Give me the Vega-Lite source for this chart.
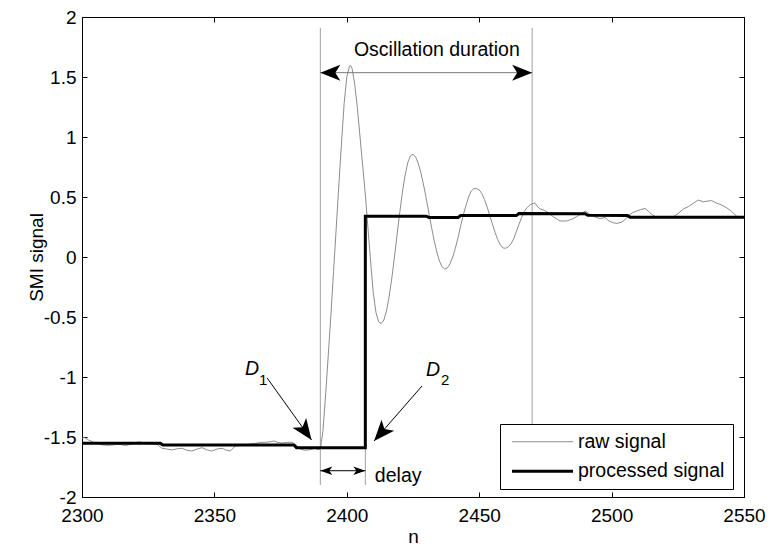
{
  "$schema": "https://vega.github.io/schema/vega-lite/v6.json",
  "width": 662,
  "height": 480,
  "autosize": {"type": "none"},
  "padding": {"left": 82, "top": 17, "right": 27, "bottom": 52},
  "background": "white",
  "config": {
    "view": {"stroke": "black", "strokeWidth": 1},
    "font": "Liberation Sans, Arial, sans-serif",
    "axis": {
      "domainColor": "black",
      "tickColor": "black",
      "tickSize": -5,
      "labelColor": "black",
      "labelFontSize": 19,
      "titleFontSize": 19,
      "titleFontWeight": "normal",
      "titleColor": "black",
      "grid": false,
      "labelFlush": false,
      "labelOverlap": false
    }
  },
  "datasets": {
    "sig": [
      {"n": 2300, "v": -1.51, "s": "raw signal"},
      {"n": 2301, "v": -1.505, "s": "raw signal"},
      {"n": 2302.5, "v": -1.525, "s": "raw signal"},
      {"n": 2305, "v": -1.55, "s": "raw signal"},
      {"n": 2307.5, "v": -1.565, "s": "raw signal"},
      {"n": 2310, "v": -1.57, "s": "raw signal"},
      {"n": 2312, "v": -1.565, "s": "raw signal"},
      {"n": 2314, "v": -1.56, "s": "raw signal"},
      {"n": 2316.4, "v": -1.572, "s": "raw signal"},
      {"n": 2318.5, "v": -1.56, "s": "raw signal"},
      {"n": 2321.4, "v": -1.54, "s": "raw signal"},
      {"n": 2323.9, "v": -1.552, "s": "raw signal"},
      {"n": 2326, "v": -1.558, "s": "raw signal"},
      {"n": 2328.3, "v": -1.56, "s": "raw signal"},
      {"n": 2330.2, "v": -1.594, "s": "raw signal"},
      {"n": 2332, "v": -1.6, "s": "raw signal"},
      {"n": 2334, "v": -1.608, "s": "raw signal"},
      {"n": 2336, "v": -1.598, "s": "raw signal"},
      {"n": 2337.8, "v": -1.594, "s": "raw signal"},
      {"n": 2339.5, "v": -1.61, "s": "raw signal"},
      {"n": 2341.5, "v": -1.617, "s": "raw signal"},
      {"n": 2343.5, "v": -1.6, "s": "raw signal"},
      {"n": 2345.3, "v": -1.589, "s": "raw signal"},
      {"n": 2347, "v": -1.605, "s": "raw signal"},
      {"n": 2349, "v": -1.617, "s": "raw signal"},
      {"n": 2351, "v": -1.6, "s": "raw signal"},
      {"n": 2352.9, "v": -1.594, "s": "raw signal"},
      {"n": 2354.5, "v": -1.61, "s": "raw signal"},
      {"n": 2356, "v": -1.617, "s": "raw signal"},
      {"n": 2357.9, "v": -1.575, "s": "raw signal"},
      {"n": 2360, "v": -1.57, "s": "raw signal"},
      {"n": 2361.7, "v": -1.57, "s": "raw signal"},
      {"n": 2363.5, "v": -1.56, "s": "raw signal"},
      {"n": 2365.5, "v": -1.553, "s": "raw signal"},
      {"n": 2367.5, "v": -1.545, "s": "raw signal"},
      {"n": 2369.2, "v": -1.544, "s": "raw signal"},
      {"n": 2371, "v": -1.54, "s": "raw signal"},
      {"n": 2372.4, "v": -1.533, "s": "raw signal"},
      {"n": 2374, "v": -1.545, "s": "raw signal"},
      {"n": 2375.5, "v": -1.55, "s": "raw signal"},
      {"n": 2377.5, "v": -1.545, "s": "raw signal"},
      {"n": 2379.3, "v": -1.544, "s": "raw signal"},
      {"n": 2381, "v": -1.57, "s": "raw signal"},
      {"n": 2382.4, "v": -1.6, "s": "raw signal"},
      {"n": 2384, "v": -1.61, "s": "raw signal"},
      {"n": 2385.6, "v": -1.608, "s": "raw signal"},
      {"n": 2387, "v": -1.6, "s": "raw signal"},
      {"n": 2388.1, "v": -1.594, "s": "raw signal"},
      {"n": 2389, "v": -1.605, "s": "raw signal"},
      {"n": 2390, "v": -1.6, "s": "raw signal"},
      {"n": 2391, "v": -1.45, "s": "raw signal"},
      {"n": 2392, "v": -1.15, "s": "raw signal"},
      {"n": 2393, "v": -0.82, "s": "raw signal"},
      {"n": 2394, "v": -0.48, "s": "raw signal"},
      {"n": 2395, "v": -0.12, "s": "raw signal"},
      {"n": 2396, "v": 0.24, "s": "raw signal"},
      {"n": 2397, "v": 0.6, "s": "raw signal"},
      {"n": 2398, "v": 0.95, "s": "raw signal"},
      {"n": 2399, "v": 1.28, "s": "raw signal"},
      {"n": 2400, "v": 1.5, "s": "raw signal"},
      {"n": 2401, "v": 1.59, "s": "raw signal"},
      {"n": 2401.5, "v": 1.595, "s": "raw signal"},
      {"n": 2402, "v": 1.57, "s": "raw signal"},
      {"n": 2403, "v": 1.44, "s": "raw signal"},
      {"n": 2404, "v": 1.24, "s": "raw signal"},
      {"n": 2405, "v": 1.0, "s": "raw signal"},
      {"n": 2406, "v": 0.76, "s": "raw signal"},
      {"n": 2407, "v": 0.52, "s": "raw signal"},
      {"n": 2408, "v": 0.24, "s": "raw signal"},
      {"n": 2409, "v": -0.04, "s": "raw signal"},
      {"n": 2410, "v": -0.3, "s": "raw signal"},
      {"n": 2411, "v": -0.46, "s": "raw signal"},
      {"n": 2412, "v": -0.54, "s": "raw signal"},
      {"n": 2413, "v": -0.555, "s": "raw signal"},
      {"n": 2414, "v": -0.525, "s": "raw signal"},
      {"n": 2415, "v": -0.448, "s": "raw signal"},
      {"n": 2416, "v": -0.328, "s": "raw signal"},
      {"n": 2417, "v": -0.176, "s": "raw signal"},
      {"n": 2418, "v": 0.0, "s": "raw signal"},
      {"n": 2419, "v": 0.19, "s": "raw signal"},
      {"n": 2420, "v": 0.37, "s": "raw signal"},
      {"n": 2421, "v": 0.54, "s": "raw signal"},
      {"n": 2422, "v": 0.68, "s": "raw signal"},
      {"n": 2423, "v": 0.785, "s": "raw signal"},
      {"n": 2424, "v": 0.842, "s": "raw signal"},
      {"n": 2425, "v": 0.857, "s": "raw signal"},
      {"n": 2426, "v": 0.832, "s": "raw signal"},
      {"n": 2427, "v": 0.779, "s": "raw signal"},
      {"n": 2428, "v": 0.7, "s": "raw signal"},
      {"n": 2429, "v": 0.6, "s": "raw signal"},
      {"n": 2430, "v": 0.488, "s": "raw signal"},
      {"n": 2431, "v": 0.367, "s": "raw signal"},
      {"n": 2432, "v": 0.247, "s": "raw signal"},
      {"n": 2433, "v": 0.136, "s": "raw signal"},
      {"n": 2434, "v": 0.04, "s": "raw signal"},
      {"n": 2435, "v": -0.034, "s": "raw signal"},
      {"n": 2436, "v": -0.082, "s": "raw signal"},
      {"n": 2437, "v": -0.1, "s": "raw signal"},
      {"n": 2438, "v": -0.09, "s": "raw signal"},
      {"n": 2439, "v": -0.056, "s": "raw signal"},
      {"n": 2440, "v": 0.0, "s": "raw signal"},
      {"n": 2441, "v": 0.073, "s": "raw signal"},
      {"n": 2442, "v": 0.16, "s": "raw signal"},
      {"n": 2443, "v": 0.26, "s": "raw signal"},
      {"n": 2444, "v": 0.35, "s": "raw signal"},
      {"n": 2445, "v": 0.43, "s": "raw signal"},
      {"n": 2446, "v": 0.5, "s": "raw signal"},
      {"n": 2447, "v": 0.55, "s": "raw signal"},
      {"n": 2448, "v": 0.57, "s": "raw signal"},
      {"n": 2449, "v": 0.57, "s": "raw signal"},
      {"n": 2450, "v": 0.56, "s": "raw signal"},
      {"n": 2451, "v": 0.528, "s": "raw signal"},
      {"n": 2452, "v": 0.479, "s": "raw signal"},
      {"n": 2453, "v": 0.417, "s": "raw signal"},
      {"n": 2454, "v": 0.346, "s": "raw signal"},
      {"n": 2455, "v": 0.273, "s": "raw signal"},
      {"n": 2456, "v": 0.204, "s": "raw signal"},
      {"n": 2457, "v": 0.145, "s": "raw signal"},
      {"n": 2458, "v": 0.101, "s": "raw signal"},
      {"n": 2459, "v": 0.075, "s": "raw signal"},
      {"n": 2460, "v": 0.073, "s": "raw signal"},
      {"n": 2461, "v": 0.085, "s": "raw signal"},
      {"n": 2462, "v": 0.11, "s": "raw signal"},
      {"n": 2463, "v": 0.15, "s": "raw signal"},
      {"n": 2464, "v": 0.21, "s": "raw signal"},
      {"n": 2465, "v": 0.27, "s": "raw signal"},
      {"n": 2466, "v": 0.33, "s": "raw signal"},
      {"n": 2467, "v": 0.38, "s": "raw signal"},
      {"n": 2468, "v": 0.41, "s": "raw signal"},
      {"n": 2469, "v": 0.43, "s": "raw signal"},
      {"n": 2470, "v": 0.445, "s": "raw signal"},
      {"n": 2471, "v": 0.45, "s": "raw signal"},
      {"n": 2472, "v": 0.42, "s": "raw signal"},
      {"n": 2473, "v": 0.4, "s": "raw signal"},
      {"n": 2474.5, "v": 0.39, "s": "raw signal"},
      {"n": 2476, "v": 0.37, "s": "raw signal"},
      {"n": 2478, "v": 0.335, "s": "raw signal"},
      {"n": 2480.5, "v": 0.3, "s": "raw signal"},
      {"n": 2483, "v": 0.3, "s": "raw signal"},
      {"n": 2485, "v": 0.315, "s": "raw signal"},
      {"n": 2486.8, "v": 0.336, "s": "raw signal"},
      {"n": 2488.5, "v": 0.36, "s": "raw signal"},
      {"n": 2490, "v": 0.383, "s": "raw signal"},
      {"n": 2491.8, "v": 0.356, "s": "raw signal"},
      {"n": 2493.5, "v": 0.335, "s": "raw signal"},
      {"n": 2495.6, "v": 0.32, "s": "raw signal"},
      {"n": 2497.5, "v": 0.33, "s": "raw signal"},
      {"n": 2499, "v": 0.3, "s": "raw signal"},
      {"n": 2500.6, "v": 0.286, "s": "raw signal"},
      {"n": 2502, "v": 0.28, "s": "raw signal"},
      {"n": 2503.8, "v": 0.29, "s": "raw signal"},
      {"n": 2505, "v": 0.31, "s": "raw signal"},
      {"n": 2506.3, "v": 0.344, "s": "raw signal"},
      {"n": 2508, "v": 0.37, "s": "raw signal"},
      {"n": 2509.5, "v": 0.383, "s": "raw signal"},
      {"n": 2511, "v": 0.395, "s": "raw signal"},
      {"n": 2512.6, "v": 0.405, "s": "raw signal"},
      {"n": 2514, "v": 0.38, "s": "raw signal"},
      {"n": 2515.1, "v": 0.356, "s": "raw signal"},
      {"n": 2517, "v": 0.33, "s": "raw signal"},
      {"n": 2519, "v": 0.335, "s": "raw signal"},
      {"n": 2521, "v": 0.33, "s": "raw signal"},
      {"n": 2523.3, "v": 0.336, "s": "raw signal"},
      {"n": 2525, "v": 0.36, "s": "raw signal"},
      {"n": 2527.1, "v": 0.4, "s": "raw signal"},
      {"n": 2529, "v": 0.42, "s": "raw signal"},
      {"n": 2531, "v": 0.45, "s": "raw signal"},
      {"n": 2532.7, "v": 0.475, "s": "raw signal"},
      {"n": 2534.6, "v": 0.46, "s": "raw signal"},
      {"n": 2536, "v": 0.465, "s": "raw signal"},
      {"n": 2537.8, "v": 0.47, "s": "raw signal"},
      {"n": 2539.5, "v": 0.45, "s": "raw signal"},
      {"n": 2541.6, "v": 0.433, "s": "raw signal"},
      {"n": 2543.5, "v": 0.41, "s": "raw signal"},
      {"n": 2545.3, "v": 0.38, "s": "raw signal"},
      {"n": 2547.2, "v": 0.34, "s": "raw signal"},
      {"n": 2548.5, "v": 0.335, "s": "raw signal"},
      {"n": 2550, "v": 0.335, "s": "raw signal"},
      {"n": 2300, "v": -1.553, "s": "processed signal"},
      {"n": 2329.6, "v": -1.553, "s": "processed signal"},
      {"n": 2330.6, "v": -1.567, "s": "processed signal"},
      {"n": 2380, "v": -1.567, "s": "processed signal"},
      {"n": 2381, "v": -1.589, "s": "processed signal"},
      {"n": 2407, "v": -1.589, "s": "processed signal"},
      {"n": 2407, "v": 0.34, "s": "processed signal"},
      {"n": 2430, "v": 0.34, "s": "processed signal"},
      {"n": 2431, "v": 0.33, "s": "processed signal"},
      {"n": 2442, "v": 0.33, "s": "processed signal"},
      {"n": 2443, "v": 0.345, "s": "processed signal"},
      {"n": 2464, "v": 0.345, "s": "processed signal"},
      {"n": 2465, "v": 0.362, "s": "processed signal"},
      {"n": 2490, "v": 0.36, "s": "processed signal"},
      {"n": 2491, "v": 0.348, "s": "processed signal"},
      {"n": 2506, "v": 0.345, "s": "processed signal"},
      {"n": 2507, "v": 0.332, "s": "processed signal"},
      {"n": 2550, "v": 0.332, "s": "processed signal"}
    ],
    "vlines": [
      {"n": 2390, "v": 1.91, "v2": -1.9},
      {"n": 2407, "v": 0.34, "v2": -1.9},
      {"n": 2470, "v": 1.91, "v2": -1.9}
    ],
    "hline": [{"n": 2390, "n2": 2470, "v": 1.536}],
    "blines": [
      {"n": 2369.9, "v": -1.008, "n2": 2386.7, "v2": -1.525},
      {"n": 2428.4, "v": -1.075, "n2": 2410.3, "v2": -1.533},
      {"n": 2390, "v": -1.781, "n2": 2407, "v2": -1.781}
    ]
  },
  "resolve": {"axis": {"x": "independent", "y": "independent"}},
  "layer": [
    {
      "data": {"name": "vlines"},
      "mark": {"type": "rule", "color": "#a0a0a0", "strokeWidth": 1},
      "encoding": {
        "x": {"field": "n", "type": "quantitative", "scale": {"domain": [2300, 2550], "nice": false, "zero": false},
          "axis": {"orient": "bottom", "title": "n", "values": [2300, 2350, 2400, 2450, 2500, 2550], "labelPadding": 14, "titlePadding": 2, "labelExpr": "'' + datum.value"}},
        "y": {"field": "v", "type": "quantitative", "scale": {"domain": [-2, 2], "nice": false, "zero": false},
          "axis": {"orient": "left", "title": "SMI signal", "values": [-2, -1.5, -1, -0.5, 0, 0.5, 1, 1.5, 2], "labelPadding": 11, "titlePadding": -3, "labelExpr": "'' + datum.value"}},
        "y2": {"field": "v2"}
      }
    },
    {
      "data": {"name": "sig"},
      "transform": [{"filter": "datum.s == 'raw signal'"}],
      "mark": {"type": "line", "strokeJoin": "round", "strokeWidth": 1},
      "encoding": {
        "x": {"field": "n", "type": "quantitative", "scale": {"domain": [2300, 2550], "nice": false, "zero": false},
          "axis": {"orient": "top", "title": null, "labels": false, "values": [2300, 2350, 2400, 2450, 2500, 2550]}},
        "y": {"field": "v", "type": "quantitative", "scale": {"domain": [-2, 2], "nice": false, "zero": false},
          "axis": {"orient": "right", "title": null, "labels": false, "values": [-2, -1.5, -1, -0.5, 0, 0.5, 1, 1.5, 2]}},
        "color": {"field": "s", "type": "nominal",
          "scale": {"domain": ["raw signal", "processed signal"], "range": ["#8c8c8c", "#000000"]},
          "legend": {"title": null, "orient": "none", "legendX": 418, "legendY": 407, "fillColor": "white", "strokeColor": "black", "padding": 8, "symbolType": "M-1.15,0L11.05,0", "symbolSize": 100, "labelFontSize": 19.5, "labelOffset": 50.5, "rowPadding": 8.5, "labelColor": "black", "cornerRadius": 0,
            "encode": {"symbols": {"update": {"strokeWidth": {"signal": "datum.value == 'processed signal' ? 3 : 1"}}}}}}
      }
    },
    {
      "data": {"name": "sig"},
      "transform": [{"filter": "datum.s == 'processed signal'"}],
      "mark": {"type": "line", "strokeJoin": "miter", "strokeWidth": 3},
      "encoding": {
        "x": {"field": "n", "type": "quantitative", "axis": null},
        "y": {"field": "v", "type": "quantitative", "axis": null},
        "color": {"field": "s", "type": "nominal"}
      }
    },
    {
      "data": {"name": "hline"},
      "mark": {"type": "rule", "color": "#7a7a7a", "strokeWidth": 1},
      "encoding": {
        "x": {"field": "n", "type": "quantitative", "axis": null},
        "x2": {"field": "n2"},
        "y": {"field": "v", "type": "quantitative", "axis": null}
      }
    },
    {
      "data": {"name": "blines"},
      "mark": {"type": "rule", "color": "black", "strokeWidth": 1},
      "encoding": {
        "x": {"field": "n", "type": "quantitative", "axis": null},
        "x2": {"field": "n2"},
        "y": {"field": "v", "type": "quantitative", "axis": null},
        "y2": {"field": "v2"}
      }
    },
    {
      "data": {"values": [{"n": 2390, "v": 1.536}]},
      "mark": {"type": "point", "shape": "M0,0L-2,-0.8L-1.5,0L-2,0.8Z", "size": 400, "filled": true, "color": "black", "opacity": 1, "angle": 180},
      "encoding": {"x": {"field": "n", "type": "quantitative", "axis": null}, "y": {"field": "v", "type": "quantitative", "axis": null}}
    },
    {
      "data": {"values": [{"n": 2470, "v": 1.536}]},
      "mark": {"type": "point", "shape": "M0,0L-2,-0.8L-1.5,0L-2,0.8Z", "size": 400, "filled": true, "color": "black", "opacity": 1, "angle": 0},
      "encoding": {"x": {"field": "n", "type": "quantitative", "axis": null}, "y": {"field": "v", "type": "quantitative", "axis": null}}
    },
    {
      "data": {"values": [{"n": 2386.7, "v": -1.525}]},
      "mark": {"type": "point", "shape": "M0,0L-2,-0.8L-1.5,0L-2,0.8Z", "size": 440, "filled": true, "color": "black", "opacity": 1, "angle": 54.3},
      "encoding": {"x": {"field": "n", "type": "quantitative", "axis": null}, "y": {"field": "v", "type": "quantitative", "axis": null}}
    },
    {
      "data": {"values": [{"n": 2410.3, "v": -1.533}]},
      "mark": {"type": "point", "shape": "M0,0L-2,-0.8L-1.5,0L-2,0.8Z", "size": 440, "filled": true, "color": "black", "opacity": 1, "angle": 131.1},
      "encoding": {"x": {"field": "n", "type": "quantitative", "axis": null}, "y": {"field": "v", "type": "quantitative", "axis": null}}
    },
    {
      "data": {"values": [{"n": 2390, "v": -1.781}]},
      "mark": {"type": "point", "shape": "M0,0L-2,-0.7L-1.5,0L-2,0.7Z", "size": 144, "filled": true, "color": "black", "opacity": 1, "angle": 180},
      "encoding": {"x": {"field": "n", "type": "quantitative", "axis": null}, "y": {"field": "v", "type": "quantitative", "axis": null}}
    },
    {
      "data": {"values": [{"n": 2407, "v": -1.781}]},
      "mark": {"type": "point", "shape": "M0,0L-2,-0.7L-1.5,0L-2,0.7Z", "size": 144, "filled": true, "color": "black", "opacity": 1, "angle": 0},
      "encoding": {"x": {"field": "n", "type": "quantitative", "axis": null}, "y": {"field": "v", "type": "quantitative", "axis": null}}
    },
    {
      "data": {"values": [{"n": 2434, "v": 1.678, "t": "Oscillation duration"}]},
      "mark": {"type": "text", "fontSize": 19.5, "color": "black", "baseline": "alphabetic", "align": "center"},
      "encoding": {
        "x": {"field": "n", "type": "quantitative", "axis": null},
        "y": {"field": "v", "type": "quantitative", "axis": null},
        "text": {"field": "t"}
      }
    },
    {
      "data": {"values": [{"n": 2410.6, "v": -1.872, "t": "delay"}]},
      "mark": {"type": "text", "fontSize": 19.5, "color": "black", "baseline": "alphabetic", "align": "left"},
      "encoding": {
        "x": {"field": "n", "type": "quantitative", "axis": null},
        "y": {"field": "v", "type": "quantitative", "axis": null},
        "text": {"field": "t"}
      }
    },
    {
      "data": {"values": [{"n": 2361.6, "v": -0.983, "t": "D"}, {"n": 2429.9, "v": -0.992, "t": "D"}]},
      "mark": {"type": "text", "fontSize": 19.5, "fontStyle": "italic", "color": "black", "baseline": "alphabetic", "align": "left"},
      "encoding": {
        "x": {"field": "n", "type": "quantitative", "axis": null},
        "y": {"field": "v", "type": "quantitative", "axis": null},
        "text": {"field": "t"}
      }
    },
    {
      "data": {"values": [{"n": 2366.8, "v": -1.067, "t": "1"}, {"n": 2435.6, "v": -1.067, "t": "2"}]},
      "mark": {"type": "text", "fontSize": 15, "color": "black", "baseline": "alphabetic", "align": "left"},
      "encoding": {
        "x": {"field": "n", "type": "quantitative", "axis": null},
        "y": {"field": "v", "type": "quantitative", "axis": null},
        "text": {"field": "t"}
      }
    }
  ]
}
